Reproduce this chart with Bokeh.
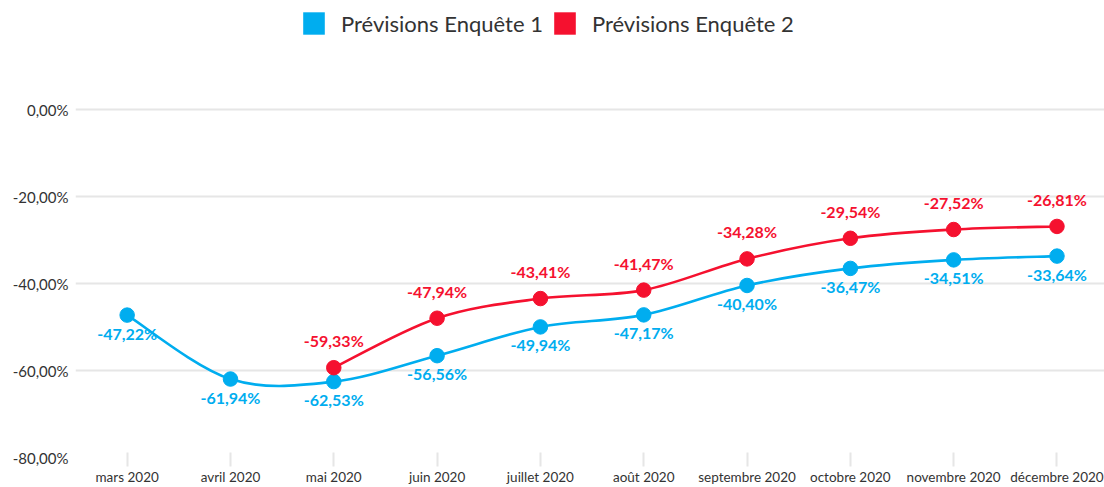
from bokeh.plotting import figure
from bokeh.models import Range1d, FixedTicker, Legend, LegendItem, ColumnDataSource
from bokeh.core.properties import value
from bokeh.embed import file_html
from bokeh.resources import INLINE

# ---- data ----
months = ["mars 2020", "avril 2020", "mai 2020", "juin 2020", "juillet 2020",
          "août 2020", "septembre 2020", "octobre 2020", "novembre 2020", "décembre 2020"]
enquete1 = [-47.22, -61.94, -62.53, -56.56, -49.94, -47.17, -40.40, -36.47, -34.51, -33.64]
enquete2 = [None, None, -59.33, -47.94, -43.41, -41.47, -34.28, -29.54, -27.52, -26.81]
series_names = ["Prévisions Enquête 1", "Prévisions Enquête 2"]
y_ticks = [0, -20, -40, -60, -80]
y_tick_labels = ["0,00%", "-20,00%", "-40,00%", "-60,00%", "-80,00%"]

BLUE = "#00ADEF"
RED = "#F5112F"
FONT = "Lato"

p = figure(width=1104, height=487, output_backend="svg", toolbar_location=None,
           x_range=Range1d(-0.5, 9.46), y_range=Range1d(-80, 25.2),
           min_border_left=75, min_border_right=0, min_border_top=0, min_border_bottom=28)
p.outline_line_color = None
p.background_fill_color = "white"
p.border_fill_color = "white"

p.xgrid.grid_line_color = None
p.ygrid.grid_line_color = "#e6e6e6"
p.ygrid.grid_line_width = 2
p.ygrid.ticker = FixedTicker(ticks=y_ticks)

p.yaxis.ticker = FixedTicker(ticks=y_ticks)
p.yaxis.major_label_overrides = {t: l for t, l in zip(y_ticks, y_tick_labels)}
p.yaxis.axis_line_color = None
p.yaxis.major_tick_line_color = None
p.yaxis.minor_tick_line_color = None
p.yaxis.major_label_standoff = 1
p.yaxis.major_label_text_font = FONT
p.yaxis.major_label_text_font_size = "15px"
p.yaxis.major_label_text_color = "#333333"

idx = list(range(len(months)))
p.xaxis.ticker = FixedTicker(ticks=idx)
p.xaxis.major_label_overrides = {i: m for i, m in zip(idx, months)}
p.xaxis.axis_line_color = None
p.xaxis.major_tick_line_color = "#e6e6e6"
p.xaxis.major_tick_line_width = 2
p.xaxis.major_tick_in = 5
p.xaxis.major_tick_out = 9
p.xaxis.minor_tick_line_color = None
p.xaxis.major_label_standoff = 2
p.xaxis.major_label_text_font = FONT
p.xaxis.major_label_text_font_size = "13.5px"
p.xaxis.major_label_text_color = "#333333"


def catmull_segments(xs, ys):
    n = len(xs)
    seg = dict(x0=[], y0=[], x1=[], y1=[], cx0=[], cy0=[], cx1=[], cy1=[])
    for i in range(n - 1):
        x0, y0 = xs[max(i - 1, 0)], ys[max(i - 1, 0)]
        x1, y1 = xs[i], ys[i]
        x2, y2 = xs[i + 1], ys[i + 1]
        x3, y3 = xs[min(i + 2, n - 1)], ys[min(i + 2, n - 1)]
        seg["x0"].append(x1); seg["y0"].append(y1)
        seg["x1"].append(x2); seg["y1"].append(y2)
        seg["cx0"].append(x1 + (x2 - x0) / 6.0); seg["cy0"].append(y1 + (y2 - y0) / 6.0)
        seg["cx1"].append(x2 - (x3 - x1) / 6.0); seg["cy1"].append(y2 - (y3 - y1) / 6.0)
    return seg


def fmt(v):
    return f"{v:.2f}".replace(".", ",") + "%"


legend_items = []
for vals, color, name, off in [(enquete1, BLUE, series_names[0], 18),
                               (enquete2, RED, series_names[1], -27)]:
    xs = [i for i, v in zip(idx, vals) if v is not None]
    ys = [v for v in vals if v is not None]
    seg = ColumnDataSource(catmull_segments(xs, ys))
    p.bezier(x0="x0", y0="y0", x1="x1", y1="y1", cx0="cx0", cy0="cy0", cx1="cx1", cy1="cy1",
             source=seg, line_color=color, line_width=2.6, line_cap="round")
    p.scatter(xs, ys, size=14.5, fill_color=color, line_color=color)
    src = ColumnDataSource(dict(x=xs, y=ys, t=[fmt(v) for v in ys]))
    p.text(x="x", y="y", text="t", source=src, y_offset=off, text_align="center",
           text_baseline="middle", text_color=color, text_font=value(FONT),
           text_font_style="bold", text_font_size="16px")
    # zero-area swatch renderer, only used for the legend key
    key = p.quad(left=xs, right=xs, top=ys, bottom=ys, fill_color=color, line_color=None)
    legend_items.append(LegendItem(label=name, renderers=[key]))

legend = Legend(items=legend_items, orientation="horizontal", location=(225, 420),
                glyph_width=27, glyph_height=28, label_standoff=14, spacing=8,
                label_width=200, padding=0, margin=0,
                border_line_color=None, background_fill_alpha=0,
                label_text_font=FONT, label_text_font_size="22px", label_text_color="#333333")
p.add_layout(legend, "center")

open("out.html", "w").write(file_html(p, INLINE))
